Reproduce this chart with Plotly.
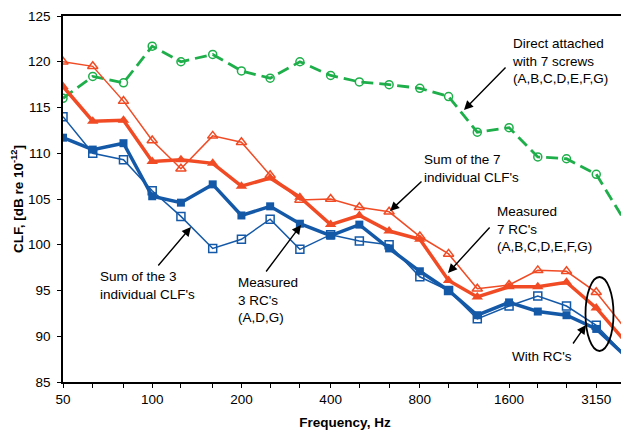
import math
import plotly.graph_objects as go

freqs = [50, 63, 80, 100, 125, 160, 200, 250, 315, 400, 500, 630, 800,
         1000, 1250, 1600, 2000, 2500, 3150, 4000]
tick_labels = ["50", "", "", "100", "", "", "200", "", "", "400", "", "",
               "800", "", "", "1600", "", "", "3150", ""]

direct_7_screws = [116.0, 118.4, 117.7, 121.7, 120.0, 120.8, 119.0, 118.2, 120.0,
                   118.5, 117.8, 117.5, 117.1, 116.2, 112.3, 112.8, 109.6, 109.4,
                   107.7, 102.2]
sum_7_individual = [120.0, 119.5, 115.7, 111.4, 108.3, 111.9, 111.2, 107.6, 104.9,
                    105.0, 104.1, 103.6, 100.9, 99.0, 95.2, 95.6, 97.2, 97.1,
                    94.8, 90.6]
measured_7_rc = [117.3, 113.5, 113.6, 109.1, 109.3, 108.9, 106.4, 107.3, 105.2,
                 102.2, 103.2, 101.5, 100.6, 96.1, 94.3, 95.4, 95.4, 95.9,
                 93.1, 89.2]
measured_3_rc = [111.7, 110.4, 111.1, 105.3, 104.6, 106.6, 103.2, 104.2, 102.3,
                 101.0, 102.2, 99.6, 97.1, 95.0, 92.3, 93.7, 92.7, 92.3,
                 90.8, 87.7]
sum_3_individual = [114.0, 110.0, 109.3, 105.9, 103.1, 99.6, 100.6, 102.8, 99.5,
                    101.1, 100.4, 100.0, 96.5, 95.0, 91.9, 93.3, 94.4, 93.3,
                    91.2, 87.7]

GREEN = "#1EAE4A"
RED = "#F04B24"
BLUE = "#1459A8"
FONT = "Arial, 'Liberation Sans', sans-serif"

# page body has an 8px margin; the figure is sized to fit inside the window
OFF = 8
W, H = 629 - OFF, 430 - OFF
# plot area in window pixels: x 63..627, y 16..382
PX0, PX1, PY0, PY1 = 63, 627, 16, 382
L, T = PX0 - OFF, PY0 - OFF
R = W - (PX1 - OFF)
B = H - (PY1 - OFF)
PW, PH = PX1 - PX0, PY1 - PY0


def px(x):
    return (x - PX0) / PW


def py(y):
    return (PY1 - y) / PH


fig = go.Figure()
fig.add_trace(go.Scatter(x=freqs, y=direct_7_screws, mode="lines+markers",
                         line=dict(color=GREEN, width=2.8, dash="12px,6px"),
                         marker=dict(symbol="circle-open", size=8, color=GREEN,
                                     line=dict(width=1.5, color=GREEN)),
                         name="Direct attached"))
fig.add_trace(go.Scatter(x=freqs, y=sum_7_individual, mode="lines+markers",
                         line=dict(color=RED, width=1.5),
                         marker=dict(symbol="triangle-up-open", size=9, color=RED,
                                     line=dict(width=1.5, color=RED)),
                         name="Sum of 7"))
fig.add_trace(go.Scatter(x=freqs, y=measured_7_rc, mode="lines+markers",
                         line=dict(color=RED, width=3.5),
                         marker=dict(symbol="triangle-up", size=10, color=RED),
                         name="Measured 7"))
fig.add_trace(go.Scatter(x=freqs, y=sum_3_individual, mode="lines+markers",
                         line=dict(color=BLUE, width=1.5),
                         marker=dict(symbol="square-open", size=8, color=BLUE,
                                     line=dict(width=1.5, color=BLUE)),
                         name="Sum of 3"))
fig.add_trace(go.Scatter(x=freqs, y=measured_3_rc, mode="lines+markers",
                         line=dict(color=BLUE, width=3.5),
                         marker=dict(symbol="square", size=8, color=BLUE),
                         name="Measured 3"))

xr = [math.log10(50), math.log10(4000)]
fig.update_layout(
    width=W, height=H,
    margin=dict(l=L, r=R, t=T, b=B, pad=0),
    paper_bgcolor="white", plot_bgcolor="white",
    showlegend=False,
    font=dict(family=FONT, size=13.5, color="black"),
    xaxis=dict(type="log", range=xr, tickvals=freqs, ticktext=tick_labels,
               ticks="outside", ticklen=4, tickwidth=1, tickcolor="black",
               showline=True, linecolor="black", linewidth=1.5, mirror=True,
               showgrid=False, zeroline=False, automargin=False,
               title=dict(text="<b>Frequency, Hz</b>", standoff=17,
                          font=dict(size=13.5))),
    yaxis=dict(range=[85, 125], dtick=5, tick0=85,
               ticks="outside", ticklen=4, tickwidth=1, tickcolor="black",
               ticklabelstandoff=4,
               showline=True, linecolor="black", linewidth=1.5, mirror=True,
               showgrid=False, zeroline=False, automargin=False,
               title=dict(text="<b>CLF, [dB re 10<sup>-12</sup>]</b>", standoff=11,
                          font=dict(size=13.5))),
    xaxis2=dict(type="log", range=xr, tickvals=freqs, overlaying="x", matches="x",
                anchor="y", ticks="inside", ticklen=4, tickwidth=1,
                tickcolor="black", showticklabels=False, showline=False,
                showgrid=False, zeroline=False, automargin=False),
    yaxis2=dict(range=[85, 125], dtick=5, tick0=85, overlaying="y", matches="y",
                anchor="x", side="left", ticks="inside", ticklen=4, tickwidth=1,
                tickcolor="black", showticklabels=False, showline=False,
                showgrid=False, zeroline=False, automargin=False),
)

texts = [
    ("Direct attached<br>with 7 screws<br>(A,B,C,D,E,F,G)", 510, 61),
    ("Sum of the 7<br>individual CLF's", 422, 168.5),
    ("Measured<br>7 RC's<br>(A,B,C,D,E,F,G)", 495, 229),
    ("Sum of the 3<br>individual CLF's", 98, 285),
    ("Measured<br>3 RC's<br>(A,D,G)", 236, 300),
    ("With RC's", 510, 356),
]
for t, x, y in texts:
    fig.add_annotation(text=t, xref="paper", yref="paper", x=px(x), y=py(y),
                       xanchor="left", yanchor="middle", align="left",
                       showarrow=False, font=dict(size=13.5, color="black"))

arrows = [
    ((507, 66), (464, 110)),
    ((423, 180), (390, 211)),
    ((491, 226), (448, 273)),
    ((157, 267), (191, 227)),
    ((265, 273), (301, 225)),
    ((572, 345), (586, 325)),
]
for (tx, ty), (hx, hy) in arrows:
    fig.add_annotation(text="", xref="paper", yref="paper", x=px(hx), y=py(hy),
                       ax=tx - hx, ay=ty - hy, axref="pixel", ayref="pixel",
                       showarrow=True, arrowhead=2, arrowsize=1.3, arrowwidth=1.4,
                       arrowcolor="black")

fig.add_shape(type="circle", xref="paper", yref="paper",
              x0=px(585.5), x1=px(613.5), y0=py(351), y1=py(277),
              line=dict(color="black", width=1.8))

fig.write_html("out.html")
